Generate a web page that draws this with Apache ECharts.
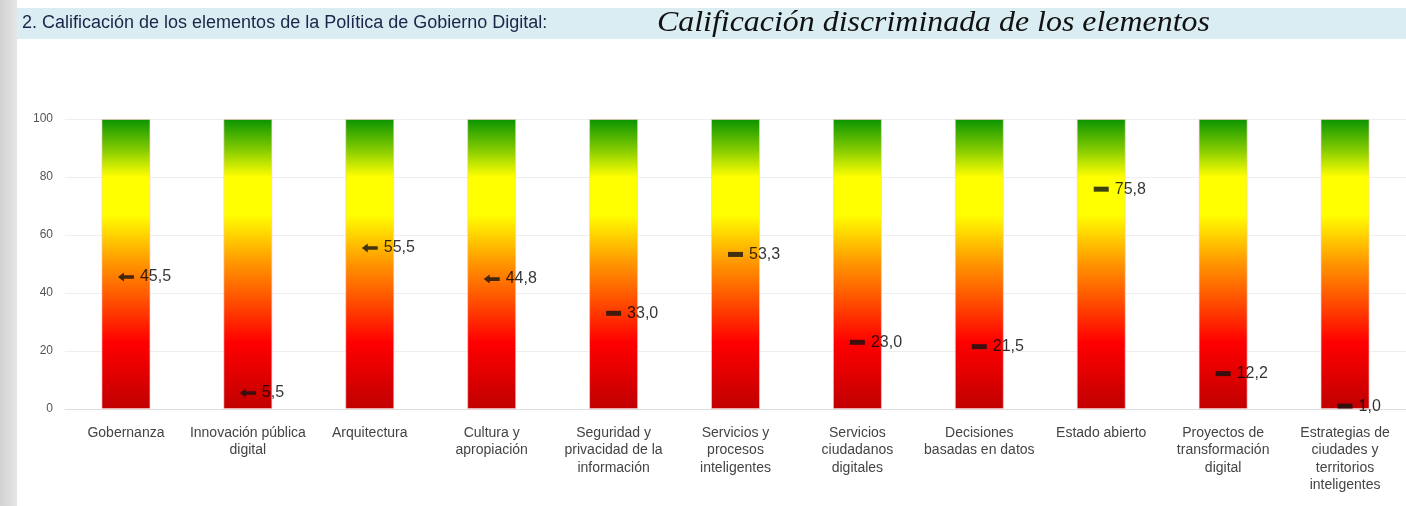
<!DOCTYPE html>
<html><head><meta charset="utf-8">
<script src="https://cdn.jsdelivr.net/npm/echarts@6/dist/echarts.min.js"></script>
<style>html,body{margin:0;padding:0;background:#fff}#c{width:1406px;height:506px}</style>
</head><body><div id="c"></div>
<script>
const headerLeft = '2. Calificación de los elementos de la Política de Gobierno Digital:';
const headerRight = 'Calificación discriminada de los elementos';
const categories = [
  'Gobernanza',
  'Innovación pública\ndigital',
  'Arquitectura',
  'Cultura y\napropiación',
  'Seguridad y\nprivacidad de la\ninformación',
  'Servicios y\nprocesos\ninteligentes',
  'Servicios\nciudadanos\ndigitales',
  'Decisiones\nbasadas en datos',
  'Estado abierto',
  'Proyectos de\ntransformación\ndigital',
  'Estrategias de\nciudades y\nterritorios\ninteligentes'
];
const scores = [45.5, 5.5, 55.5, 44.8, 33.0, 53.3, 23.0, 21.5, 75.8, 12.2, 1.0];
const maxScore = [100, 100, 100, 100, 100, 100, 100, 100, 100, 100, 100];
const markerKind = ['arrow','arrow','arrow','arrow','dash','dash','dash','dash','dash','dash','dash'];
const yTicks = [0, 20, 40, 60, 80, 100];

const arrowPath = 'path://M0,5 L6,0 L6,3 L16,3 L16,7 L6,7 L6,10 Z';
const chart = echarts.init(document.getElementById('c'), null, {renderer:'canvas'});
const grad = new echarts.graphic.LinearGradient(0,0,0,1,[
  {offset:0, color:'#0a9400'},
  {offset:0.1, color:'#7cc800'},
  {offset:0.2, color:'#ffff00'},
  {offset:0.33, color:'#ffff00'},
  {offset:0.5, color:'#ff9400'},
  {offset:0.64, color:'#ff4800'},
  {offset:0.77, color:'#ff0000'},
  {offset:1, color:'#c00000'}
]);
chart.setOption({
  animation:false,
  graphic:[
    {type:'rect', left:0, top:0, shape:{width:17, height:506}, z:-10,
      style:{fill:new echarts.graphic.LinearGradient(0,0,1,0,[{offset:0,color:'#d2d2d2'},{offset:1,color:'#e6e6e6'}])}},
    {type:'rect', left:17, top:8, shape:{width:1389, height:31}, z:-10, style:{fill:'#daedf3'}},
    {type:'text', left:22, top:14, style:{text:headerLeft, font:'18px "Liberation Sans", Arial, sans-serif', fill:'#1c2448'}},
    {type:'text', left:657, top:9, scaleX:1.1, style:{text:headerRight, font:'italic 29px "Liberation Serif", "Times New Roman", serif', fill:'#111'}}
  ],
  grid:{left:65, right:0, top:119, bottom:97, containLabel:false},
  xAxis:{type:'category', data:categories,
    axisLine:{lineStyle:{color:'#dddddd'}}, axisTick:{show:false},
    axisLabel:{interval:0, color:'#444', fontSize:14, lineHeight:17.5, margin:15,
      fontFamily:'"Liberation Sans", Arial, sans-serif'}},
  yAxis:{type:'value', min:0, max:100, interval:20,
    axisLabel:{color:'#555', fontSize:12, margin:12, fontFamily:'"Liberation Sans", Arial, sans-serif',
      formatter:v=>yTicks.includes(v)?String(v):''},
    splitLine:{lineStyle:{color:'#eeeeee'}}},
  series:[
    {type:'bar', data:maxScore, barWidth:49, itemStyle:{color:grad, borderColor:'rgba(255,200,200,0.6)', borderWidth:1}, silent:true},
    {type:'scatter', data:scores.map((v,i)=>({value:v,
        symbol: markerKind[i]==='arrow'?arrowPath:'rect',
        symbolSize: markerKind[i]==='arrow'?[16,9]:[15,5]})),
      itemStyle:{color:'#111'}, z:5,
      label:{show:true, position:'right', distance:6, color:'#000', fontSize:16,
        fontFamily:'"Liberation Sans", Arial, sans-serif',
        formatter:p=>p.value.toFixed(1).replace('.',',')}}
  ]
});
</script></body></html>
